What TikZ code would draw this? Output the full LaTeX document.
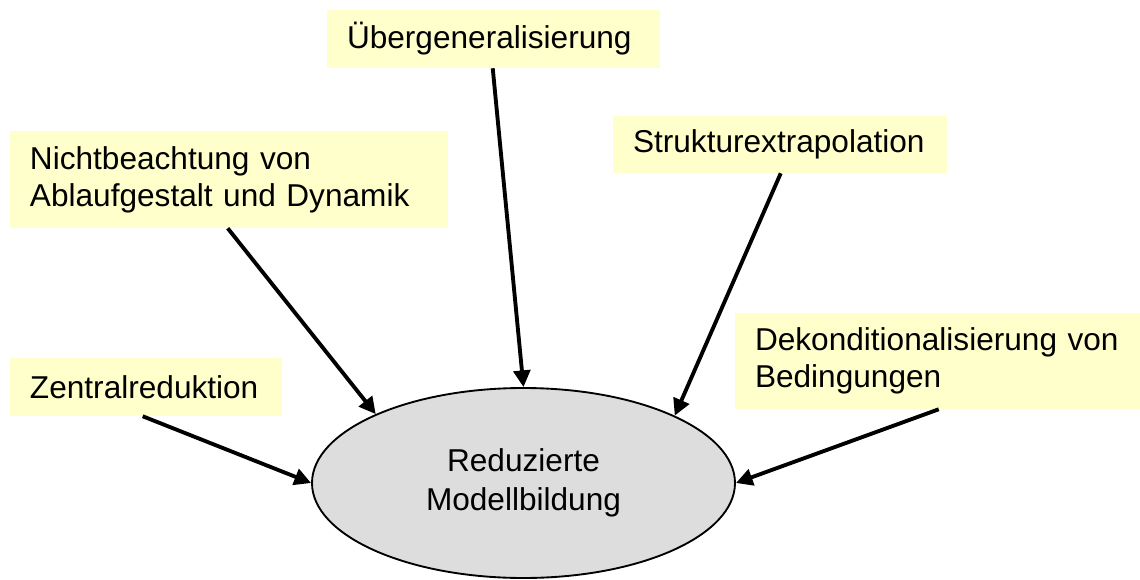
\documentclass[tikz,border=0pt]{standalone}
\usepackage{fontspec}
\setmainfont{Liberation Sans}
\usetikzlibrary{shapes.geometric,arrows.meta,calc}
\definecolor{boxyellow}{HTML}{FFFFCC}
\definecolor{ellgray}{HTML}{DDDDDD}
\begin{document}
\begin{tikzpicture}[x=0.75pt,y=-0.75pt,
  cause/.style={fill=boxyellow,draw=none,inner xsep=15pt,inner ysep=0pt,
    align=left,font=\fontsize{23.7pt}{27.75pt}\selectfont},
  effect/.style={ellipse,draw=black,line width=1.4pt,fill=ellgray,inner sep=0pt,
    minimum width=317.25pt,minimum height=142.5pt,align=center,
    font=\fontsize{23.7pt}{29.25pt}\selectfont},
  pointer/.style={line width=2.9pt,-{Triangle[length=12.5pt,width=12.5pt]}}]
\useasboundingbox (0,0) rectangle (1140,579);

% cause boxes
\node[cause,text width=219.75pt,minimum height=43.5pt] (ueber) at (493.5,39) {Übergeneralisierung};
\node[cause,text width=298.5pt,minimum height=72.75pt] (nicht) at (229,179.5) {Nichtbeachtung von\\Ablaufgestalt und Dynamik};
\node[cause,text width=220.5pt,minimum height=42.75pt] (struk) at (780,144.5) {Strukturextrapolation};
\node[cause,text width=174pt,minimum height=43.5pt] (zentral) at (146,387) {Zentralreduktion};
\node[cause,text width=273.75pt,minimum height=72pt] (dekond) at (937.5,361) {Dekonditionalisierung von\\Bedingungen};

% central effect
\node[effect] (model) at (523.5,483) {Reduzierte\\Modellbildung};

% connectors
\draw[pointer] ($(ueber.south west)+(166,0)$) -- (model.90.9);
\draw[pointer] ($(nicht.south west)+(218,0)$) -- (model.155.8);
\draw[pointer] ($(struk.south west)+(168,0)$) -- (model.24.6);
\draw[pointer] ($(zentral.south west)+(133,0)$) -- (model.180.5);
\draw[pointer] ($(dekond.south west)+(204,0)$) -- (model.-0.5);
\end{tikzpicture}
\end{document}
